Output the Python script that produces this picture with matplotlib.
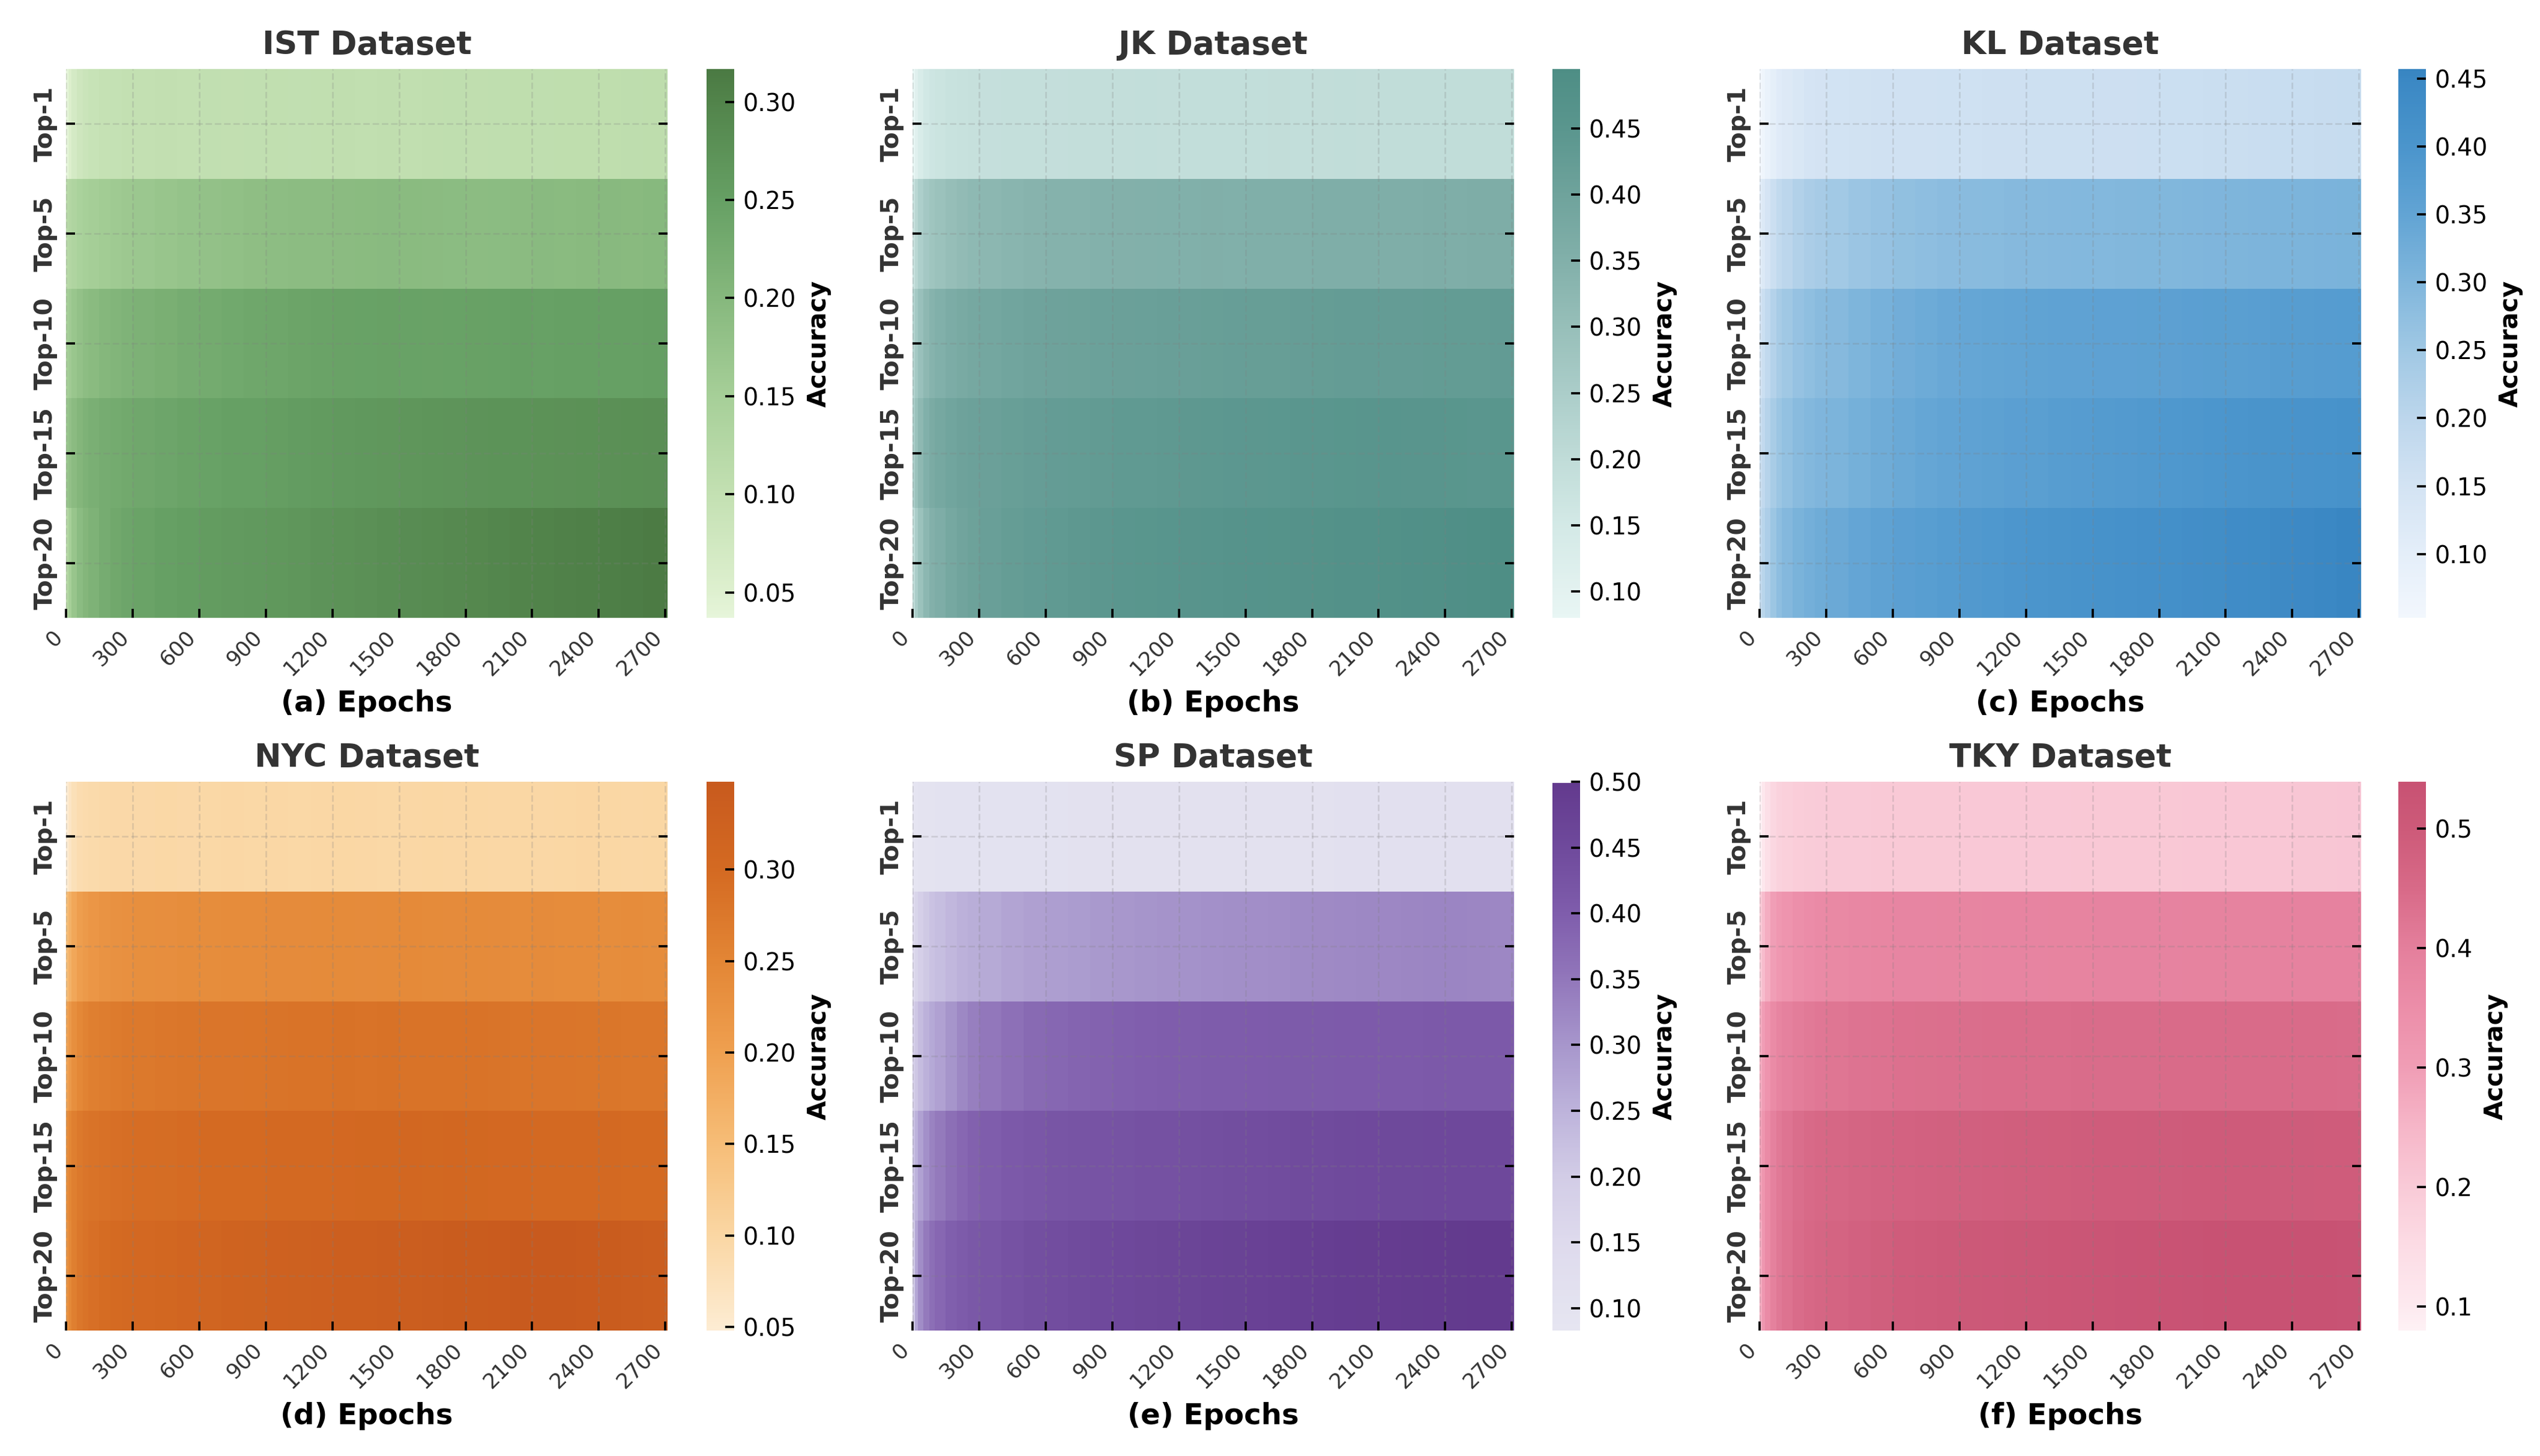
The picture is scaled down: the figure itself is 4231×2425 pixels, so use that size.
#!/usr/bin/env python
# -*- encoding: utf8 -*-

import matplotlib
matplotlib.use("Agg")
import matplotlib.pyplot as plt
from matplotlib.colors import LinearSegmentedColormap
import numpy as np

# epochs at which accuracy was logged (one heatmap column each)
epochs = [0, 10, 25, 50, 75, 100, 150, 200, 250] + list(range(300, 2701, 100))
last_epoch = 2710
topk = ["Top-1", "Top-5", "Top-10", "Top-15", "Top-20"]

ist = [
    [0.037, 0.055, 0.068, 0.080, 0.087, 0.092, 0.096, 0.098, 0.100,
     0.101, 0.102, 0.101, 0.103, 0.102, 0.103, 0.104, 0.103, 0.104, 0.105, 0.104, 0.105, 0.104,
     0.105, 0.106, 0.105, 0.106, 0.107, 0.106, 0.107, 0.108, 0.107, 0.109, 0.110, 0.111],
    [0.120, 0.128, 0.135, 0.142, 0.148, 0.152, 0.157, 0.161, 0.164,
     0.166, 0.172, 0.176, 0.180, 0.183, 0.186, 0.188, 0.190, 0.191, 0.193, 0.194, 0.195, 0.194,
     0.193, 0.192, 0.190, 0.192, 0.193, 0.195, 0.194, 0.196, 0.197, 0.196, 0.198, 0.197],
    [0.150, 0.160, 0.170, 0.180, 0.188, 0.194, 0.201, 0.206, 0.210,
     0.213, 0.219, 0.224, 0.228, 0.232, 0.235, 0.238, 0.241, 0.243, 0.245, 0.246, 0.247, 0.246,
     0.245, 0.246, 0.247, 0.248, 0.249, 0.248, 0.249, 0.250, 0.251, 0.250, 0.252, 0.251],
    [0.170, 0.182, 0.193, 0.204, 0.212, 0.218, 0.224, 0.228, 0.231,
     0.234, 0.239, 0.243, 0.246, 0.249, 0.251, 0.253, 0.256, 0.259, 0.262, 0.264, 0.266, 0.268,
     0.269, 0.270, 0.272, 0.273, 0.274, 0.275, 0.276, 0.277, 0.278, 0.279, 0.280, 0.281],
    [0.125, 0.150, 0.172, 0.192, 0.204, 0.212, 0.224, 0.233, 0.239,
     0.244, 0.250, 0.254, 0.257, 0.260, 0.262, 0.265, 0.268, 0.272, 0.275, 0.278, 0.281, 0.284,
     0.287, 0.290, 0.293, 0.296, 0.299, 0.302, 0.304, 0.306, 0.309, 0.311, 0.314, 0.3167],
]

jk = [
    [0.080, 0.110, 0.135, 0.155, 0.165, 0.172, 0.178, 0.182, 0.185,
     0.187, 0.189, 0.190, 0.191, 0.192, 0.192, 0.193, 0.194, 0.193, 0.194, 0.195, 0.194, 0.195,
     0.196, 0.195, 0.196, 0.197, 0.196, 0.197, 0.197, 0.198, 0.197, 0.198, 0.198, 0.199],
    [0.180, 0.215, 0.245, 0.268, 0.281, 0.290, 0.303, 0.313, 0.320,
     0.326, 0.333, 0.338, 0.341, 0.344, 0.346, 0.348, 0.350, 0.351, 0.352, 0.353, 0.352, 0.354,
     0.355, 0.354, 0.356, 0.357, 0.356, 0.358, 0.357, 0.359, 0.358, 0.360, 0.359, 0.360],
    [0.230, 0.265, 0.295, 0.322, 0.340, 0.352, 0.365, 0.374, 0.381,
     0.386, 0.393, 0.398, 0.402, 0.405, 0.408, 0.410, 0.412, 0.414, 0.415, 0.417, 0.418, 0.419,
     0.420, 0.421, 0.423, 0.424, 0.424, 0.425, 0.426, 0.427, 0.427, 0.428, 0.429, 0.430],
    [0.250, 0.290, 0.323, 0.352, 0.370, 0.381, 0.393, 0.401, 0.406,
     0.410, 0.416, 0.421, 0.425, 0.428, 0.431, 0.434, 0.436, 0.438, 0.440, 0.442, 0.444, 0.445,
     0.447, 0.448, 0.450, 0.452, 0.453, 0.455, 0.454, 0.453, 0.452, 0.451, 0.452, 0.451],
    [0.200, 0.250, 0.290, 0.325, 0.348, 0.362, 0.381, 0.395, 0.405,
     0.413, 0.423, 0.430, 0.436, 0.441, 0.445, 0.449, 0.452, 0.455, 0.458, 0.461, 0.463, 0.466,
     0.468, 0.470, 0.473, 0.475, 0.477, 0.479, 0.482, 0.484, 0.486, 0.489, 0.492, 0.495],
]

kl = [
    [0.053, 0.065, 0.080, 0.098, 0.112, 0.122, 0.135, 0.143, 0.148,
     0.151, 0.154, 0.156, 0.157, 0.158, 0.159, 0.160, 0.161, 0.161, 0.162, 0.163, 0.163, 0.164,
     0.165, 0.166, 0.167, 0.168, 0.169, 0.170, 0.172, 0.174, 0.176, 0.177, 0.178, 0.179],
    [0.110, 0.125, 0.145, 0.168, 0.186, 0.200, 0.218, 0.230, 0.239,
     0.246, 0.257, 0.266, 0.273, 0.278, 0.282, 0.285, 0.288, 0.290, 0.292, 0.294, 0.295, 0.296,
     0.297, 0.298, 0.299, 0.300, 0.302, 0.303, 0.305, 0.306, 0.307, 0.308, 0.309, 0.310],
    [0.150, 0.168, 0.190, 0.215, 0.235, 0.249, 0.266, 0.277, 0.285,
     0.291, 0.303, 0.314, 0.323, 0.331, 0.338, 0.344, 0.348, 0.351, 0.353, 0.355, 0.357, 0.358,
     0.359, 0.360, 0.362, 0.364, 0.366, 0.368, 0.370, 0.372, 0.374, 0.376, 0.378, 0.380],
    [0.170, 0.188, 0.210, 0.236, 0.256, 0.270, 0.286, 0.296, 0.302,
     0.307, 0.318, 0.328, 0.337, 0.344, 0.350, 0.355, 0.360, 0.364, 0.368, 0.372, 0.376, 0.379,
     0.382, 0.386, 0.390, 0.393, 0.396, 0.399, 0.402, 0.404, 0.406, 0.408, 0.410, 0.411],
    [0.185, 0.205, 0.228, 0.256, 0.278, 0.293, 0.310, 0.321, 0.329,
     0.335, 0.346, 0.356, 0.364, 0.371, 0.378, 0.385, 0.390, 0.395, 0.399, 0.403, 0.407, 0.411,
     0.414, 0.417, 0.420, 0.424, 0.428, 0.432, 0.436, 0.440, 0.444, 0.448, 0.453, 0.457],
]

nyc = [
    [0.048, 0.065, 0.078, 0.086, 0.090, 0.092, 0.094, 0.095, 0.095,
     0.096, 0.097, 0.096, 0.097, 0.098, 0.097, 0.098, 0.097, 0.098, 0.099, 0.098, 0.097, 0.098,
     0.099, 0.098, 0.099, 0.098, 0.099, 0.098, 0.099, 0.100, 0.099, 0.098, 0.099, 0.098],
    [0.150, 0.170, 0.188, 0.203, 0.212, 0.218, 0.224, 0.228, 0.230,
     0.232, 0.234, 0.236, 0.237, 0.238, 0.239, 0.240, 0.240, 0.241, 0.241, 0.240, 0.241, 0.242,
     0.241, 0.240, 0.241, 0.240, 0.239, 0.240, 0.239, 0.238, 0.237, 0.238, 0.236, 0.235],
    [0.195, 0.215, 0.232, 0.247, 0.256, 0.262, 0.267, 0.270, 0.272,
     0.274, 0.276, 0.278, 0.279, 0.280, 0.281, 0.282, 0.283, 0.284, 0.285, 0.284, 0.285, 0.284,
     0.283, 0.284, 0.283, 0.282, 0.281, 0.280, 0.279, 0.278, 0.278, 0.277, 0.276, 0.275],
    [0.235, 0.250, 0.263, 0.274, 0.280, 0.284, 0.288, 0.290, 0.292,
     0.293, 0.295, 0.297, 0.299, 0.300, 0.301, 0.302, 0.303, 0.304, 0.305, 0.306, 0.306, 0.307,
     0.306, 0.307, 0.306, 0.305, 0.305, 0.304, 0.303, 0.303, 0.302, 0.301, 0.300, 0.300],
    [0.225, 0.245, 0.262, 0.276, 0.284, 0.290, 0.296, 0.300, 0.303,
     0.305, 0.309, 0.313, 0.316, 0.319, 0.322, 0.325, 0.327, 0.329, 0.331, 0.333, 0.335, 0.337,
     0.339, 0.341, 0.343, 0.345, 0.347, 0.348, 0.346, 0.344, 0.341, 0.338, 0.334, 0.331],
]

sp = [
    [0.083, 0.092, 0.098, 0.102, 0.104, 0.105, 0.106, 0.107, 0.107,
     0.108, 0.108, 0.109, 0.109, 0.110, 0.110, 0.110, 0.111, 0.111, 0.111, 0.112, 0.112, 0.112,
     0.113, 0.113, 0.113, 0.114, 0.114, 0.114, 0.115, 0.115, 0.115, 0.116, 0.116, 0.116],
    [0.150, 0.170, 0.190, 0.208, 0.220, 0.229, 0.242, 0.252, 0.260,
     0.266, 0.275, 0.282, 0.287, 0.291, 0.295, 0.298, 0.301, 0.304, 0.306, 0.309, 0.311, 0.313,
     0.315, 0.317, 0.319, 0.321, 0.323, 0.325, 0.326, 0.327, 0.327, 0.326, 0.325, 0.325],
    [0.190, 0.210, 0.232, 0.253, 0.268, 0.280, 0.302, 0.322, 0.338,
     0.350, 0.364, 0.374, 0.381, 0.386, 0.390, 0.394, 0.397, 0.399, 0.401, 0.402, 0.403, 0.404,
     0.405, 0.405, 0.406, 0.407, 0.407, 0.408, 0.408, 0.409, 0.409, 0.410, 0.410, 0.410],
    [0.220, 0.250, 0.280, 0.310, 0.330, 0.345, 0.365, 0.380, 0.392,
     0.400, 0.410, 0.416, 0.420, 0.423, 0.425, 0.427, 0.430, 0.432, 0.435, 0.437, 0.440, 0.442,
     0.444, 0.446, 0.448, 0.450, 0.451, 0.452, 0.453, 0.454, 0.454, 0.455, 0.455, 0.455],
    [0.200, 0.270, 0.315, 0.345, 0.365, 0.380, 0.395, 0.405, 0.413,
     0.419, 0.428, 0.436, 0.442, 0.447, 0.451, 0.455, 0.459, 0.463, 0.466, 0.470, 0.473, 0.476,
     0.479, 0.482, 0.485, 0.488, 0.490, 0.492, 0.494, 0.495, 0.497, 0.498, 0.499, 0.499],
]

tky = [
    [0.080, 0.110, 0.140, 0.165, 0.178, 0.185, 0.192, 0.196, 0.198,
     0.200, 0.201, 0.202, 0.202, 0.203, 0.203, 0.204, 0.204, 0.205, 0.205, 0.205, 0.206, 0.206,
     0.207, 0.207, 0.207, 0.208, 0.208, 0.209, 0.209, 0.209, 0.210, 0.210, 0.211, 0.211],
    [0.200, 0.235, 0.268, 0.298, 0.318, 0.330, 0.346, 0.356, 0.363,
     0.368, 0.373, 0.376, 0.378, 0.379, 0.380, 0.381, 0.382, 0.383, 0.383, 0.384, 0.384, 0.385,
     0.385, 0.386, 0.386, 0.387, 0.387, 0.388, 0.388, 0.389, 0.389, 0.389, 0.390, 0.390],
    [0.270, 0.300, 0.330, 0.360, 0.380, 0.392, 0.405, 0.413, 0.418,
     0.422, 0.427, 0.431, 0.434, 0.436, 0.438, 0.440, 0.441, 0.442, 0.443, 0.443, 0.444, 0.444,
     0.445, 0.445, 0.446, 0.446, 0.446, 0.447, 0.447, 0.447, 0.446, 0.446, 0.445, 0.445],
    [0.290, 0.325, 0.360, 0.392, 0.413, 0.426, 0.440, 0.449, 0.455,
     0.460, 0.466, 0.470, 0.474, 0.477, 0.479, 0.481, 0.483, 0.485, 0.487, 0.488, 0.490, 0.491,
     0.492, 0.493, 0.494, 0.495, 0.495, 0.496, 0.495, 0.494, 0.493, 0.492, 0.491, 0.490],
    [0.270, 0.320, 0.360, 0.395, 0.415, 0.428, 0.445, 0.456, 0.463,
     0.469, 0.478, 0.485, 0.491, 0.496, 0.500, 0.504, 0.508, 0.512, 0.515, 0.518, 0.521, 0.524,
     0.527, 0.530, 0.532, 0.534, 0.536, 0.538, 0.539, 0.538, 0.537, 0.536, 0.535, 0.534],
]

# colour stops: (accuracy, colour), None = data min / max
cmap_ist = [(None, '#e6f5da'), (0.05, '#def0cf'), (0.10, '#c3e0b2'), (0.15, '#a6cf98'),
            (0.20, '#86b87d'), (0.25, '#66a064'), (0.30, '#52844b'), (None, '#4b7a43')]
cmap_jk = [(None, '#e8f6f4'), (0.10, '#e3f2f0'), (0.15, '#d3e9e6'), (0.20, '#c0dcd8'),
           (0.25, '#abcdc9'), (0.30, '#97bfb9'), (0.35, '#82b0aa'), (0.40, '#6fa39c'),
           (0.45, '#5a968e'), (None, '#4e8e85')]
cmap_kl = [(None, '#f2f7fd'), (0.10, '#e4eef9'), (0.15, '#d3e3f3'), (0.20, '#bcd6ec'),
           (0.25, '#a0c8e4'), (0.30, '#80b6dc'), (0.35, '#62a4d4'), (0.40, '#4b95cc'),
           (0.45, '#3b88c4'), (None, '#3885c1')]
cmap_nyc = [(None, '#fdecd3'), (0.10, '#fad6a3'), (0.15, '#f6bd77'), (0.20, '#efa050'),
            (0.25, '#e38635'), (0.30, '#d46a22'), (None, '#c85a1e')]
cmap_sp = [(None, '#e6e5f1'), (0.10, '#e4e3f0'), (0.15, '#dedaed'), (0.20, '#d2cce6'),
           (0.25, '#bdb3db'), (0.30, '#a796cc'), (0.35, '#9277bb'), (0.40, '#7f5dac'),
           (0.45, '#6f4a9c'), (None, '#633a8e')]
cmap_tky = [(None, '#fef1f5'), (0.10, '#fde9ef'), (0.15, '#fcdce5'), (0.20, '#f9cad7'),
            (0.25, '#f6b6c8'), (0.30, '#f09db5'), (0.35, '#ec8ea9'), (0.40, '#e47f9c'),
            (0.45, '#d86a88'), (0.50, '#cd5a79'), (None, '#c85273')]

W, H = 4231, 2425
DARK = '#333333'


def make_cmap(stops, vmin, vmax):
    pts = []
    for i, (v, c) in enumerate(stops):
        if v is None:
            t = 0.0 if i == 0 else 1.0
        else:
            t = (v - vmin) / (vmax - vmin)
        if 0.0 <= t <= 1.0:
            pts.append((t, c))
    return LinearSegmentedColormap.from_list('acc', pts)


def panel(fig, left, top, cleft, data, stops, title, xlab, cticks, cfmt):
    ax = fig.add_axes([left / W, 1 - (top + 914) / H, 1002 / W, 914 / H])
    cax = fig.add_axes([cleft / W, 1 - (top + 914) / H, 46 / W, 914 / H])

    data = np.array(data)
    vmin, vmax = data.min(), data.max()
    cmap = make_cmap(stops, vmin, vmax)
    xedges = epochs + [last_epoch]
    yedges = np.arange(len(topk) + 1)
    mesh = ax.pcolormesh(xedges, yedges, data, cmap=cmap, vmin=vmin, vmax=vmax,
                         shading='flat', rasterized=True)

    ax.set_xlim(0, last_epoch)
    ax.set_ylim(len(topk), 0)
    ax.set_xticks(range(0, 2701, 300))
    ax.set_xticklabels([str(e) for e in range(0, 2701, 300)], rotation=45, ha='right',
                       rotation_mode='default', fontsize=8.5, color=DARK)
    ax.set_yticks(np.arange(len(topk)) + 0.5)
    ax.set_yticklabels(topk, rotation=90, va='center', fontsize=9.8,
                       fontweight='bold', color=DARK)
    ax.tick_params(direction='in', left=True, right=True, bottom=True, top=False,
                   length=3.5, width=0.9)
    for s in ax.spines.values():
        s.set_visible(False)
    ax.grid(True, linestyle='--', color='gray', alpha=0.22, linewidth=0.7)

    ax.set_title(title, fontsize=12.8, fontweight='bold', color=DARK)
    ax.set_xlabel(xlab, fontsize=11.6, fontweight='bold')

    cb = fig.colorbar(mesh, cax=cax)
    cb.outline.set_visible(False)
    cb.set_ticks(cticks)
    cb.set_ticklabels([cfmt % t for t in cticks])
    cb.ax.tick_params(direction='in', length=3.5, width=0.9, labelsize=9.5)
    cb.set_label('Accuracy', fontsize=10, fontweight='bold')
    return ax


def main():
    fig = plt.figure(figsize=(W / 300.0, H / 300.0), dpi=300)

    t2 = [0.05, 0.10, 0.15, 0.20, 0.25, 0.30]
    t3 = [0.10, 0.15, 0.20, 0.25, 0.30, 0.35, 0.40, 0.45]
    panel(fig, 110, 115, 1177, ist, cmap_ist, "IST Dataset", "(a) Epochs", t2, "%.2f")
    panel(fig, 1520, 115, 2586, jk, cmap_jk, "JK Dataset", "(b) Epochs", t3, "%.2f")
    panel(fig, 2931, 115, 3995, kl, cmap_kl, "KL Dataset", "(c) Epochs", t3, "%.2f")
    panel(fig, 110, 1302, 1177, nyc, cmap_nyc, "NYC Dataset", "(d) Epochs", t2, "%.2f")
    panel(fig, 1520, 1302, 2586, sp, cmap_sp, "SP Dataset", "(e) Epochs",
          t3 + [0.50], "%.2f")
    panel(fig, 2931, 1302, 3995, tky, cmap_tky, "TKY Dataset", "(f) Epochs",
          [0.1, 0.2, 0.3, 0.4, 0.5], "%.1f")

    fig.savefig("out.png", dpi=300, facecolor='white')


if __name__ == '__main__':
    main()
